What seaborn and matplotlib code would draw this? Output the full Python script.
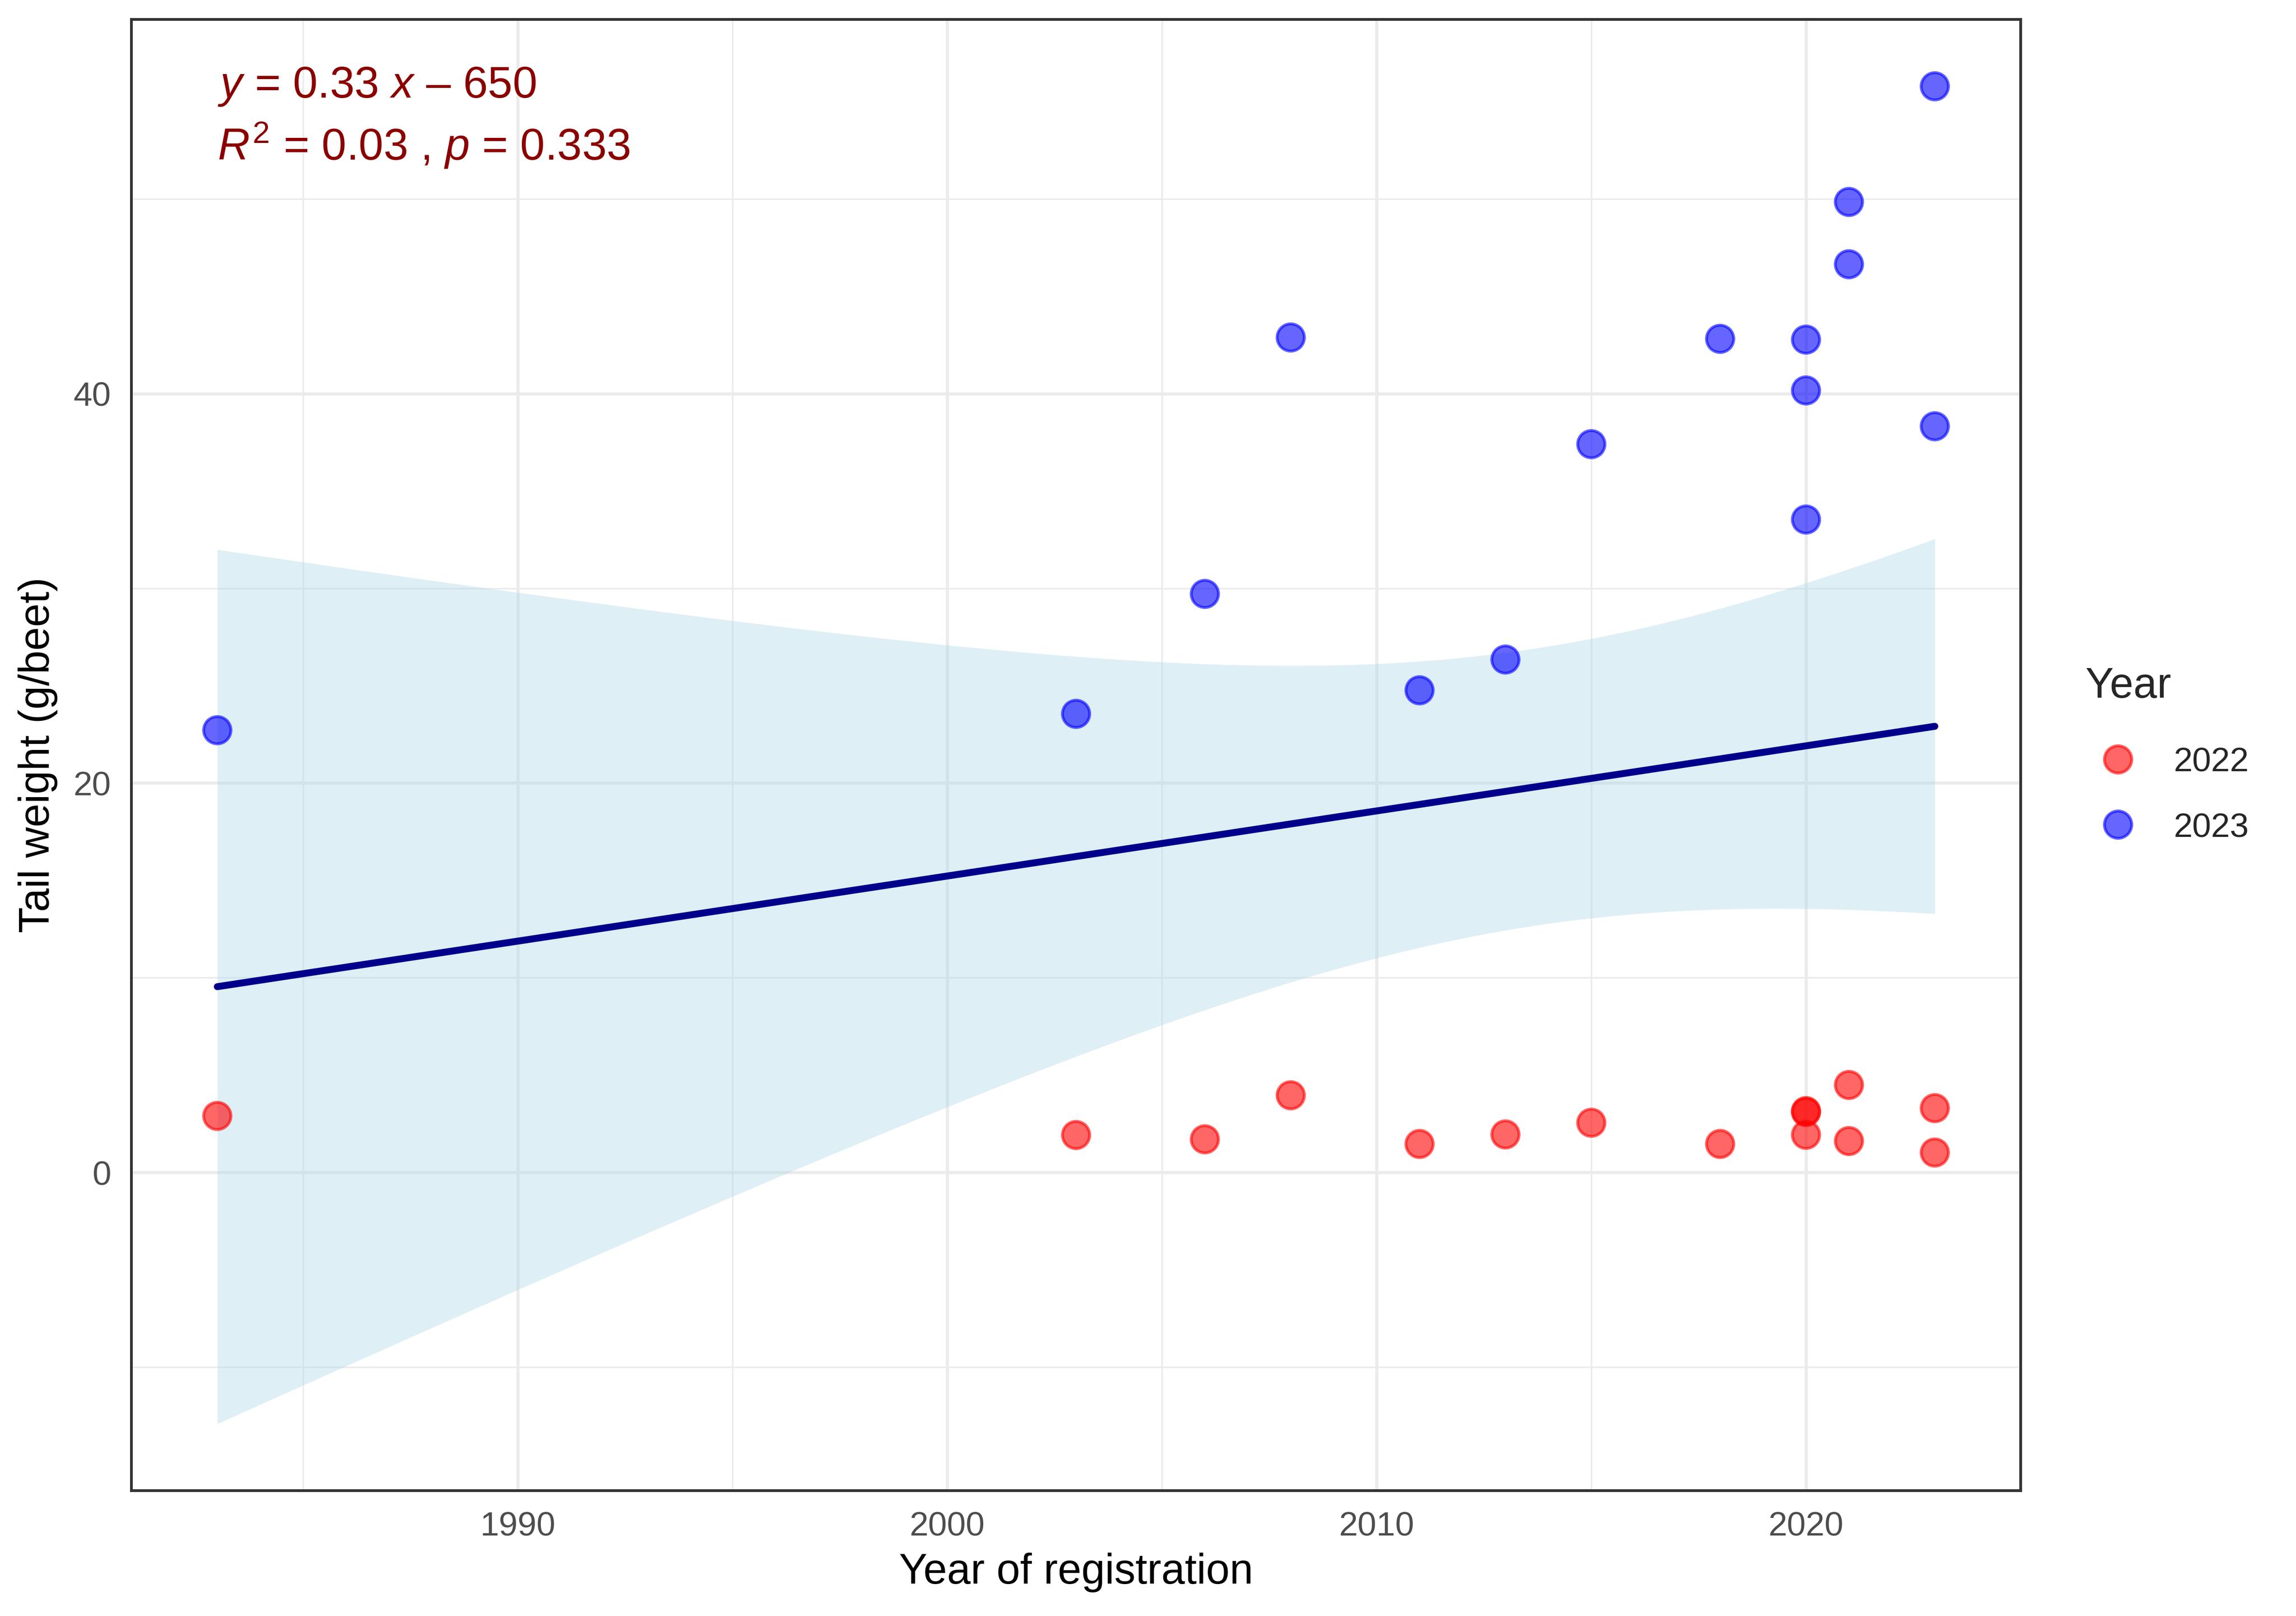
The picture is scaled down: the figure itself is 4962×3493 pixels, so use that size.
import numpy as np
import pandas as pd
import matplotlib
matplotlib.use("Agg")
import matplotlib.pyplot as plt
from matplotlib.ticker import MultipleLocator
import seaborn as sns

# Values
years_2022 = [1983, 2003, 2006, 2008, 2011, 2013, 2015, 2018, 2020, 2020, 2020, 2021, 2021, 2023, 2023]
weight_2022 = [2.90, 1.92, 1.70, 3.96, 1.46, 1.95, 2.55, 1.46, 3.10, 3.15, 1.93, 4.49, 1.61, 3.30, 1.02]
years_2023 = [1983, 2003, 2006, 2008, 2011, 2013, 2015, 2018, 2020, 2020, 2020, 2021, 2021, 2023, 2023]
weight_2023 = [22.71, 23.55, 29.71, 42.88, 24.76, 26.34, 37.40, 42.81, 42.77, 40.16, 33.53, 49.84, 46.64, 55.78, 38.32]
trial_years = ["2022", "2023"]
eq_line1 = "$y$ = 0.33 $x$ \u2013 650"
eq_line2 = "$R^2$ = 0.03 , $p$ = 0.333"

df = pd.DataFrame({
    "reg_year": years_2022 + years_2023,
    "weight": weight_2022 + weight_2023,
    "Year": [trial_years[0]] * len(years_2022) + [trial_years[1]] * len(years_2023),
})

# Linear fit with 95% confidence band (like geom_smooth(method = "lm"))
x = df["reg_year"].to_numpy(float)
y = df["weight"].to_numpy(float)
n = len(x)
slope, intercept = np.polyfit(x, y, 1)
resid = y - (slope * x + intercept)
s = np.sqrt(np.sum(resid ** 2) / (n - 2))
sxx = np.sum((x - x.mean()) ** 2)
x_grid = np.linspace(x.min(), x.max(), 120)
y_fit = slope * x_grid + intercept
t_crit = 2.048  # t(0.975, df = 28)
half = t_crit * s * np.sqrt(1 / n + (x_grid - x.mean()) ** 2 / sxx)
fit = pd.DataFrame({"reg_year": x_grid, "fit": y_fit, "lo": y_fit - half, "hi": y_fit + half})

sns.set_theme(style="white")
plt.rcParams["font.family"] = ["Liberation Sans", "DejaVu Sans"]
plt.rcParams["mathtext.fontset"] = "custom"
plt.rcParams["mathtext.rm"] = "Liberation Sans"
plt.rcParams["mathtext.it"] = "Liberation Sans:italic"

fig = plt.figure(figsize=(4962 / 300, 3493 / 300), dpi=300)
ax = fig.add_axes([0.05724, 0.07758, 0.88009 - 0.05724, 0.98798 - 0.07758])

# ribbon first, points over it, fit line on top
ax.fill_between(fit["reg_year"], fit["lo"], fit["hi"], color="#ADD8E6", alpha=0.4,
                linewidth=0, zorder=2)
sns.scatterplot(data=df, x="reg_year", y="weight", hue="Year", hue_order=trial_years,
                palette={"2022": "red", "2023": "blue"}, alpha=0.6, s=200,
                linewidth=1.5, ax=ax, zorder=3)
for coll in ax.collections[1:]:
    coll.set_edgecolor(coll.get_facecolor())
sns.lineplot(data=fit, x="reg_year", y="fit", color="#00008B", linewidth=3.6, ax=ax,
             zorder=4, legend=False)

# limits with 5% expansion like ggplot
xr = x.max() - x.min()
ax.set_xlim(x.min() - 0.05 * xr, x.max() + 0.05 * xr)
ymin = min(fit["lo"].min(), y.min())
ymax = max(fit["hi"].max(), y.max())
yr = ymax - ymin
ax.set_ylim(ymin - 0.05 * yr, ymax + 0.05 * yr)

ax.xaxis.set_major_locator(MultipleLocator(10))
ax.xaxis.set_minor_locator(MultipleLocator(5))
ax.yaxis.set_major_locator(MultipleLocator(20))
ax.yaxis.set_minor_locator(MultipleLocator(10))
ax.grid(which="major", color="#EBEBEB", linewidth=1.6, zorder=0)
ax.grid(which="minor", color="#EBEBEB", linewidth=0.8, zorder=0)
ax.set_axisbelow(True)
for sp in ax.spines.values():
    sp.set_color("#333333")
    sp.set_linewidth(1.42)
    sp.set_visible(True)

ax.tick_params(which="major", length=6.1, width=1.42, color="#333333",
               labelsize=17.6, labelcolor="#4D4D4D", pad=4.5)
ax.tick_params(which="minor", length=0)

ax.set_xlabel("Year of registration", fontsize=22, color="black", labelpad=5.5)
ax.set_ylabel("Tail weight (g/beet)", fontsize=22, color="black", labelpad=8)

ax.text(x.min(), 55.2, eq_line1, fontsize=23, color="#8B0000", va="baseline", ha="left")
ax.text(x.min(), 52.0, eq_line2, fontsize=23, color="#8B0000", va="baseline", ha="left")

spacing = 1.02
leg = ax.legend(title="Year", loc="center left", bbox_to_anchor=(1.0343, 0.5),
                frameon=False, fontsize=17.6, title_fontsize=22, borderpad=0,
                borderaxespad=0, handlelength=1.9, handletextpad=0.7,
                labelspacing=spacing, markerscale=1.0, alignment="left")
leg._legend_box.sep = spacing * 17.6 + 3.0
for h in leg.legend_handles:
    h.set_alpha(0.6)
    h.set_markeredgecolor(h.get_markerfacecolor())
    h.set_markeredgewidth(1.5)

fig.savefig("out.png", dpi=300, facecolor="white")
